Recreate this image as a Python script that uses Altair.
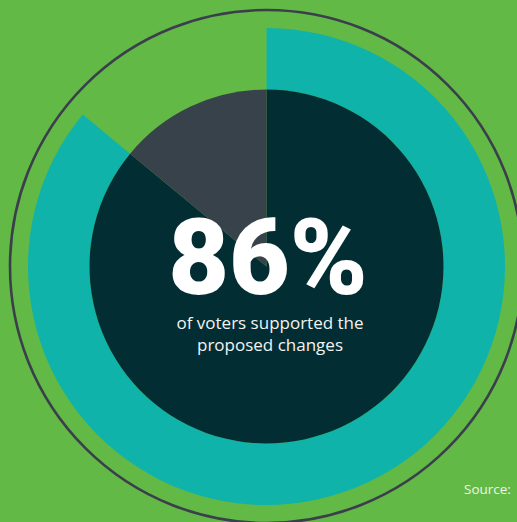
import math
import altair as alt
import pandas as pd

# Share of voters for and against the proposed changes
categories = ["Supported", "Did not support"]
shares = [86, 14]
headline = "86%"
caption_lines = ["of voters supported the", "proposed changes"]
source_label = "Source:"

W, H = 517, 522
CX, CY = 266.5, 266.5

df = pd.DataFrame({"group": categories, "share": shares, "rank": [0, 1]})
one = pd.DataFrame({"v": [1]})

# Thin outline ring around the whole graphic
outline = alt.Chart(one).mark_arc(
    theta=0, theta2=2 * math.pi, radius=257, radius2=256,
    fill="transparent", stroke="#3b3f4c", strokeWidth=1.6,
).encode(x=alt.value(CX), y=alt.value(CY))

# Outer teal band showing only the supporting share
ring = alt.Chart(df).mark_arc(radius=238.5, radius2=177).encode(
    theta=alt.Theta("share:Q", stack=True, scale=alt.Scale(domain=[0, 100])),
    order=alt.Order("rank:Q"),
    color=alt.Color("group:N", scale=alt.Scale(domain=categories,
                                                range=["#10b3a9", "transparent"]),
                    legend=None),
    x=alt.value(CX), y=alt.value(CY),
)

# Inner pie: dark for supported, grey for the rest
pie = alt.Chart(df).mark_arc(radius=177).encode(
    theta=alt.Theta("share:Q", stack=True, scale=alt.Scale(domain=[0, 100])),
    order=alt.Order("rank:Q"),
    color=alt.Color("group:N", scale=alt.Scale(domain=categories,
                                                range=["#022e33", "#38424a"]),
                    legend=None),
    x=alt.value(CX), y=alt.value(CY),
)

big = alt.Chart(pd.DataFrame({"t": [headline]})).mark_text(
    font="Roboto", fontWeight=900, fontSize=105, color="white",
    align="center", baseline="alphabetic",
).encode(text="t:N", x=alt.value(268), y=alt.value(294))

cap1 = alt.Chart(pd.DataFrame({"t": [caption_lines[0]]})).mark_text(
    font="Open Sans", fontSize=17, color="#f2f4f4", align="center",
    baseline="alphabetic",
).encode(text="t:N", x=alt.value(270), y=alt.value(328.5))

cap2 = alt.Chart(pd.DataFrame({"t": [caption_lines[1]]})).mark_text(
    font="Open Sans", fontSize=17, color="#f2f4f4", align="center",
    baseline="alphabetic",
).encode(text="t:N", x=alt.value(270), y=alt.value(350.5))

src = alt.Chart(pd.DataFrame({"t": [source_label]})).mark_text(
    font="Open Sans", fontSize=13.5, color="#eef6ea", align="left",
    baseline="middle",
).encode(text="t:N", x=alt.value(464), y=alt.value(490))

chart = alt.layer(outline, ring, pie, big, cap1, cap2, src).resolve_scale(
    theta="independent", color="independent",
).properties(
    width=W, height=H, padding=0, autosize=alt.AutoSizeParams(type="none"),
    background="#63b946",
).configure_view(stroke=None)

chart.save("out.html", embed_options={"renderer": "svg", "actions": False})
